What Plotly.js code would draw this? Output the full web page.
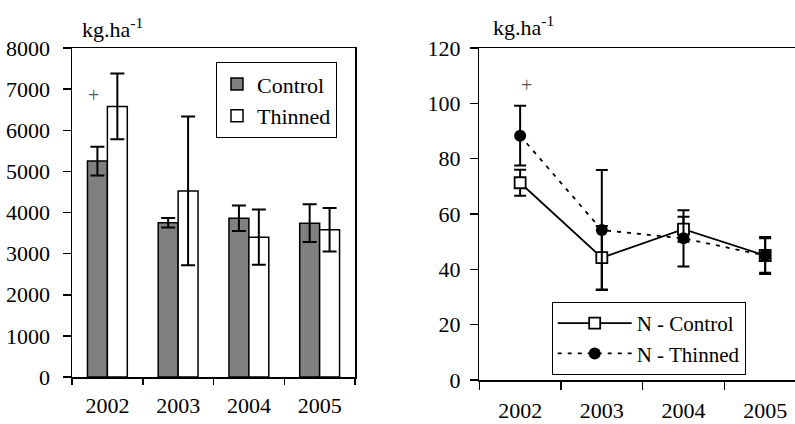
<!DOCTYPE html>
<html>
<head>
<meta charset="utf-8">
<script src="https://cdn.plot.ly/plotly-3.0.1.min.js"></script>
<style>
  html, body { margin: 0; padding: 0; overflow: hidden; background: #fff; width: 795px; height: 424px; }
  #chart { width: 830px; height: 424px; }
  #chart text { font-family: 'Liberation Serif', 'DejaVu Serif', 'Times New Roman', Times, serif !important; }
</style>
</head>
<body>
<div id="chart"></div>
<script>
// ---- data ----
const years = ['2002', '2003', '2004', '2005'];
const biomassControl = [5250, 3750, 3860, 3740];
const biomassControlErr = [350, 115, 310, 460];
const biomassThinned = [6580, 4525, 3400, 3580];
const biomassThinnedErr = [800, 1810, 670, 530];
const nControl = [71.3, 44.2, 54.5, 45.0];
const nControlErr = [4.7, 11.5, 4.5, 6.2];
const nThinned = [88.3, 54.2, 51.2, 45.0];
const nThinnedErr = [10.8, 21.7, 10.2, 6.7];
const unitLabel = 'kg.ha<sup>-1</sup>';
const sigMark = '+';

// ---- layout geometry ----
const W = 830, H = 424;
const FONT = '"Liberation Serif", "DejaVu Serif", "Times New Roman", Times, serif';
const px = v => v / W;
const py = v => 1 - v / H;

const traces = [
  {
    type: 'bar', name: 'Control', x: years, y: biomassControl,
    xaxis: 'x', yaxis: 'y', legend: 'legend',
    marker: { color: '#808080', line: { color: '#000', width: 1.5 } },
    error_y: { type: 'data', array: biomassControlErr, visible: true, color: '#000', thickness: 2, width: 7 }
  },
  {
    type: 'bar', name: 'Thinned', x: years, y: biomassThinned,
    xaxis: 'x', yaxis: 'y', legend: 'legend',
    marker: { color: '#ffffff', line: { color: '#000', width: 1.5 } },
    error_y: { type: 'data', array: biomassThinnedErr, visible: true, color: '#000', thickness: 2, width: 7 }
  },
  {
    type: 'scatter', mode: 'lines+markers', name: 'N - Control', x: years, y: nControl,
    xaxis: 'x2', yaxis: 'y2', legend: 'legend2',
    line: { color: '#000', width: 1.8 },
    marker: { symbol: 'square', size: 11, color: '#fff', line: { color: '#000', width: 1.8 } },
    error_y: { type: 'data', array: nControlErr, visible: true, color: '#000', thickness: 2, width: 6 }
  },
  {
    type: 'scatter', mode: 'lines+markers', name: 'N - Thinned', x: years, y: nThinned,
    xaxis: 'x2', yaxis: 'y2', legend: 'legend2',
    line: { color: '#000', width: 1.8, dash: '4px,6px' },
    marker: { symbol: 'circle', size: 12, color: '#000' },
    error_y: { type: 'data', array: nThinnedErr, visible: true, color: '#000', thickness: 2, width: 6 }
  }
];

const axisCommon = {
  showgrid: false, zeroline: false, showline: true, linecolor: '#000', linewidth: 1.5,
  mirror: true, ticks: 'outside', tickcolor: '#000', tickwidth: 1.5, tickangle: 0,
  automargin: false,
  tickfont: { family: FONT, size: 22, color: '#000' }
};

const layout = {
  width: W, height: H,
  margin: { l: 0, r: 0, t: 0, b: 0, pad: 0 },
  paper_bgcolor: '#fff', plot_bgcolor: '#fff',
  font: { family: FONT, size: 22, color: '#000' },
  barmode: 'group', bargap: 0.437, bargroupgap: 0,
  xaxis: Object.assign({}, axisCommon, {
    domain: [px(72), px(355)], anchor: 'y', type: 'category', range: [-0.5, 3.5],
    tickson: 'boundaries', ticklen: 6, ticklabelstandoff: 8
  }),
  yaxis: Object.assign({}, axisCommon, {
    domain: [47 / H, py(48)], anchor: 'x', range: [0, 8000], dtick: 1000,
    ticklen: 8, ticklabelstandoff: 8
  }),
  xaxis2: Object.assign({}, axisCommon, {
    domain: [px(479.3), px(806)], anchor: 'y2', type: 'category', range: [-0.5, 3.5],
    tickson: 'boundaries', ticklen: 8, ticklabelstandoff: 10
  }),
  yaxis2: Object.assign({}, axisCommon, {
    domain: [44 / H, py(48)], anchor: 'x2', range: [0, 120], dtick: 20,
    ticklen: 8, ticklabelstandoff: 5
  }),
  legend: {
    x: px(216), y: py(62.3), xanchor: 'left', yanchor: 'top',
    bgcolor: '#fff', bordercolor: '#000', borderwidth: 1,
    font: { family: FONT, size: 22, color: '#000' }, traceorder: 'normal',
    itemwidth: 30
  },
  legend2: {
    x: px(551.7), y: py(302), xanchor: 'left', yanchor: 'top',
    bgcolor: '#fff', bordercolor: '#000', borderwidth: 1,
    font: { family: FONT, size: 21, color: '#000' }, traceorder: 'normal',
    itemwidth: 74
  },
  showlegend: true,
  annotations: [
    { text: unitLabel, xref: 'paper', yref: 'paper', x: px(80), y: py(28), xanchor: 'left', yanchor: 'middle',
      showarrow: false, font: { family: FONT, size: 22, color: '#000' } },
    { text: unitLabel, xref: 'paper', yref: 'paper', x: px(491), y: py(26), xanchor: 'left', yanchor: 'middle',
      showarrow: false, font: { family: FONT, size: 22, color: '#000' } },
    { text: sigMark, xref: 'x', yref: 'y', x: 0, y: 6860, xshift: -14, showarrow: false,
      font: { family: FONT, size: 20, color: '#555' } },
    { text: sigMark, xref: 'x2', yref: 'y2', x: 0, y: 106.6, xshift: 6, showarrow: false,
      font: { family: FONT, size: 20, color: '#555' } }
  ]
};

Plotly.newPlot('chart', traces, layout, { staticPlot: true, displayModeBar: false });
</script>
</body>
</html>
